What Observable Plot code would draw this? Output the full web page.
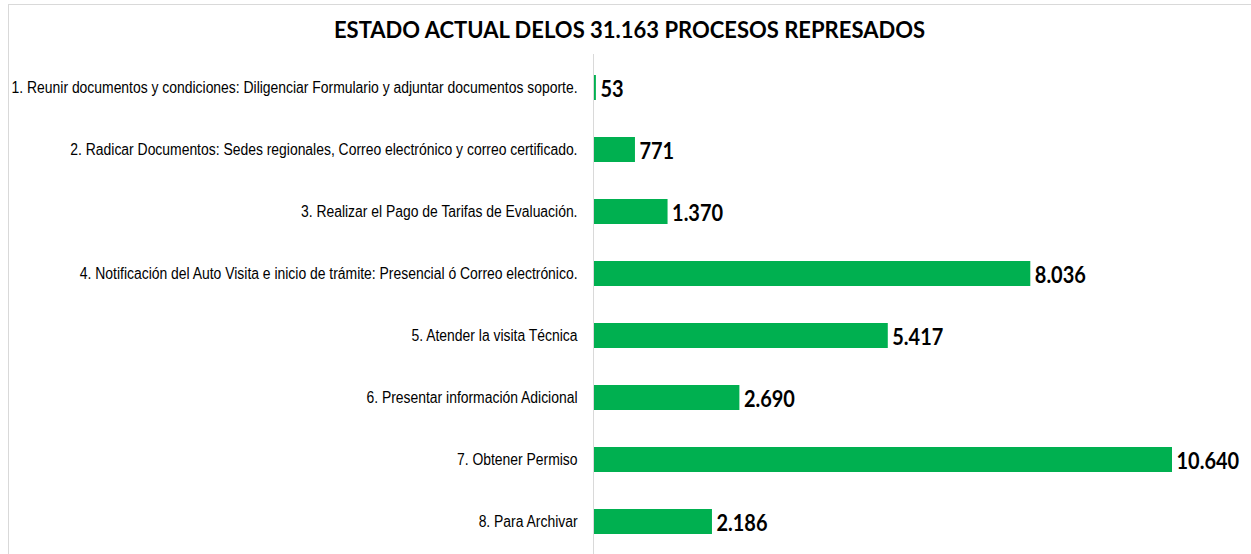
<!DOCTYPE html>
<html>
<head>
<meta charset="utf-8">
<script src="https://cdn.jsdelivr.net/npm/d3@7"></script>
<script src="https://cdn.jsdelivr.net/npm/@observablehq/plot@0.6"></script>
<style>
  html, body { margin: 0; padding: 0; background: #fff; }
  #frame { position: absolute; left: 8px; top: 4px; width: 1243px; height: 550px;
           border-top: 1px solid #d9d9d9; border-left: 1px solid #d9d9d9; box-sizing: border-box; }
  #wrap { position: absolute; left: 0; top: 0; width: 1251px; }
  #title { height: 54px; box-sizing: border-box; padding-top: 15px; padding-left: 8px; text-align: center;
           font-family: Lato, sans-serif; font-weight: bold; font-size: 22px; color: #000; line-height: 30px; }
  svg { display: block; }
</style>
</head>
<body>
<div id="frame"></div>
<div id="wrap">
  <div id="title">ESTADO ACTUAL DELOS 31.163 PROCESOS REPRESADOS</div>
  <div id="chart"></div>
</div>
<script>
const categories = [
  "1. Reunir documentos y condiciones: Diligenciar Formulario y adjuntar documentos soporte.",
  "2. Radicar Documentos: Sedes regionales, Correo electrónico y correo certificado.",
  "3. Realizar el Pago de Tarifas de Evaluación.",
  "4. Notificación del Auto Visita e inicio de trámite: Presencial ó Correo electrónico.",
  "5. Atender la visita Técnica",
  "6. Presentar información Adicional",
  "7. Obtener Permiso",
  "8. Para Archivar"
];
const values = [53, 771, 1370, 8036, 5417, 2690, 10640, 2186];

const data = categories.map((c, i) => ({category: c, value: values[i]}));
const fmt = d3.formatLocale({decimal: ",", thousands: ".", grouping: [3], currency: ["", ""]}).format(",d");

const chart = Plot.plot({
  width: 1251,
  height: 500,
  marginLeft: 593,
  marginRight: 79,
  marginTop: 0,
  marginBottom: 0,
  x: {domain: [0, 10640], axis: null},
  y: {domain: categories, paddingInner: 0.6, paddingOuter: 0.3, label: null},
  marks: [
    Plot.axisY({tickSize: 0, tickPadding: 16, fontSize: 16, fontFamily: "'Liberation Sans', Arial, sans-serif", fill: "#000", label: null}),
    Plot.barX(data, {x: "value", y: "category", fill: "#00B050"}),
    Plot.ruleX([0], {stroke: "#d9d9d9", strokeWidth: 1}),
    Plot.text(data, {x: "value", y: "category", text: d => fmt(d.value), textAnchor: "start", dx: 4, dy: 1,
      fontSize: 23.5, fontWeight: "bold", fontFamily: "Lato, sans-serif", fill: "#000"})
  ]
});
document.getElementById("chart").appendChild(chart);

// horizontally condense texts (narrow-font look), keeping their anchor edge fixed
function condense(selector, k, anchorRight) {
  d3.select(chart).selectAll(selector).each(function() {
    const b = this.getBBox();
    const ax = anchorRight ? b.x + b.width : b.x;
    const t = this.getAttribute("transform") || "";
    this.setAttribute("transform", `${t} translate(${ax},0) scale(${k},1) translate(${-ax},0)`);
  });
}
condense('g[aria-label="y-axis tick label"] text', 0.87, true);
condense('g[aria-label="text"] text', 0.85, false);
</script>
</body>
</html>
